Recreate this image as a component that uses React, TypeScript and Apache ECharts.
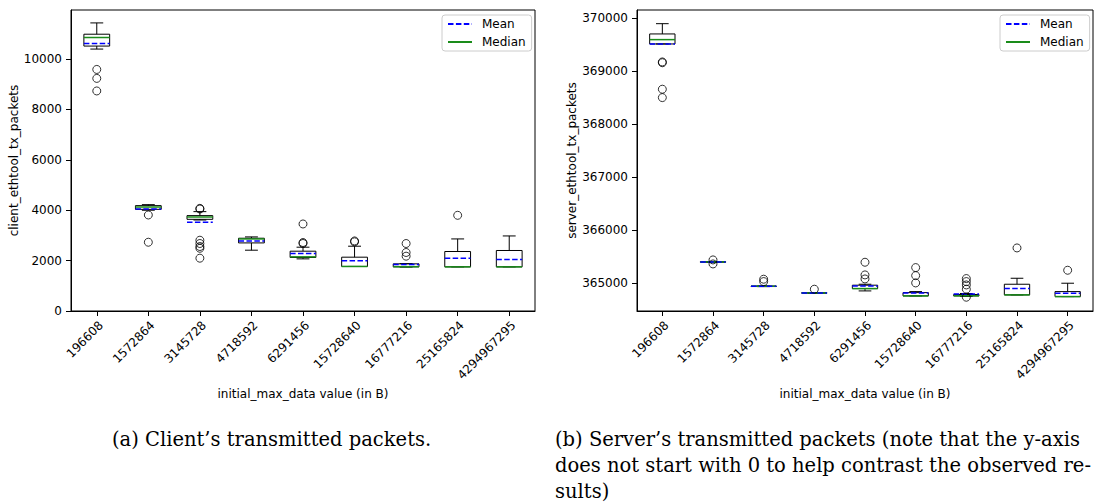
import React, { useEffect, useRef } from "react";
import * as echarts from "echarts";

const categories = ["196608", "1572864", "3145728", "4718592", "6291456", "15728640", "16777216", "25165824", "4294967295"];

// Client (left panel)
const clientWhiskerLow = [10399, 4000, 3613, 2414, 2070, 1768, 1745, 1753, 1753];
const clientQ1 = [10518, 4036, 3640, 2703, 2125, 1768, 1753, 1753, 1753];
const clientMedian = [10858, 4128, 3732, 2861, 2150, 1768, 1760, 1753, 1753];
const clientQ3 = [10989, 4183, 3787, 2889, 2374, 2137, 1872, 2362, 2402];
const clientWhiskerHigh = [11437, 4222, 3945, 2941, 2533, 2572, 1880, 2861, 2980];
const clientMean = [10621, 4049, 3522, 2782, 2283, 1991, 1848, 2097, 2046];
const clientOutliers: [number, number][] = [
  [0, 9590], [0, 9235], [0, 8736],
  [1, 3812], [1, 2730],
  [2, 4049], [2, 4075], [2, 2810], [2, 2680], [2, 2560], [2, 2490], [2, 2097],
  [4, 3455], [4, 2719], [4, 2680],
  [5, 2782], [5, 2745],
  [6, 2679], [6, 2323], [6, 2176],
  [7, 3799],
];
const clientTicks = [0, 2000, 4000, 6000, 8000, 10000];

// Server (right panel)
const serverWhiskerLow = [369509, 365390, 364930, 364805, 364849, 364755, 364745, 364774, 364742];
const serverQ1 = [369509, 365392, 364933, 364807, 364893, 364755, 364755, 364774, 364742];
const serverMedian = [369591, 365396, 364937, 364811, 364893, 364755, 364757, 364774, 364742];
const serverQ3 = [369698, 365400, 364941, 364815, 364957, 364817, 364781, 364975, 364836];
const serverWhiskerHigh = [369892, 365402, 364943, 364817, 364975, 364836, 364800, 365088, 364994];
const serverMean = [369509, 365396, 364935, 364809, 364943, 364811, 364792, 364893, 364805];
const serverOutliers: [number, number][] = [
  [0, 369170], [0, 369155], [0, 368655], [0, 368497],
  [1, 365434], [1, 365358],
  [2, 365070], [2, 365025],
  [3, 364881],
  [4, 365390], [4, 365151], [4, 365075],
  [5, 365289], [5, 365138], [5, 365000],
  [6, 365082], [6, 365025], [6, 364962], [6, 364881], [6, 364730],
  [7, 365660],
  [8, 365239],
];
const serverTicks = [365000, 366000, 367000, 368000, 369000, 370000];

const xTitle = "initial_max_data value (in B)";
const clientYTitle = "client_ethtool_tx_packets";
const serverYTitle = "server_ethtool_tx_packets";
const captionA = "(a) Client\u2019s transmitted packets.";
const captionB = [
  "(b) Server\u2019s transmitted packets (note that the y-axis",
  "does not start with 0 to help contrast the observed re-",
  "sults)",
];

const SANS = "DejaVu Sans";
const SERIF = "DejaVu Serif";
const MEAN_COLOR = "#0000ff";
const MEDIAN_COLOR = "#1a8c1a";
const MEAN_DASH = [5.5, 2.4];

function boxData(low: number[], q1: number[], med: number[], q3: number[], high: number[], mean: number[]) {
  return categories.map((_, i) => [i, low[i], q1[i], med[i], q3[i], high[i], mean[i]]);
}

const renderBox = (_params: any, api: any) => {
  const x = api.value(0);
  const pLow = api.coord([x, api.value(1)]);
  const pQ1 = api.coord([x, api.value(2)]);
  const pMed = api.coord([x, api.value(3)]);
  const pQ3 = api.coord([x, api.value(4)]);
  const pHigh = api.coord([x, api.value(5)]);
  const pMean = api.coord([x, api.value(6)]);
  const band = api.size([1, 0])[0];
  const bw = band * 0.5;
  const cw = bw * 0.5;
  const cx = pLow[0];
  const black = { stroke: "#000", lineWidth: 1, fill: null };
  return {
    type: "group",
    children: [
      { type: "line", shape: { x1: cx, y1: pQ3[1], x2: cx, y2: pHigh[1] }, style: black },
      { type: "line", shape: { x1: cx - cw / 2, y1: pHigh[1], x2: cx + cw / 2, y2: pHigh[1] }, style: black },
      { type: "line", shape: { x1: cx, y1: pQ1[1], x2: cx, y2: pLow[1] }, style: black },
      { type: "line", shape: { x1: cx - cw / 2, y1: pLow[1], x2: cx + cw / 2, y2: pLow[1] }, style: black },
      {
        type: "rect",
        shape: { x: cx - bw / 2, y: pQ3[1], width: bw, height: Math.max(pQ1[1] - pQ3[1], 0.5) },
        style: { fill: "none", stroke: "#000", lineWidth: 1 },
      },
      {
        type: "line",
        shape: { x1: cx - bw / 2, y1: pMed[1], x2: cx + bw / 2, y2: pMed[1] },
        style: { stroke: MEDIAN_COLOR, lineWidth: 1.5 },
      },
      {
        type: "line",
        shape: { x1: cx - bw / 2, y1: pMean[1], x2: cx + bw / 2, y2: pMean[1] },
        style: { stroke: MEAN_COLOR, lineWidth: 1.5, lineDash: MEAN_DASH },
      },
    ],
  };
};

function xAxisFor(gridIndex: number) {
  return {
    type: "category",
    gridIndex,
    data: categories,
    boundaryGap: true,
    axisLine: { show: true, lineStyle: { color: "#000", width: 1 } },
    axisTick: { show: true, alignWithLabel: true, length: 5, lineStyle: { color: "#000" } },
    axisLabel: {
      rotate: 45,
      fontSize: 12,
      color: "#000",
      fontFamily: SANS,
      margin: 8,
      interval: 0,
      align: "right",
      verticalAlign: "top",
    },
    splitLine: { show: false },
    name: xTitle,
    nameLocation: "middle",
    nameGap: 75,
    nameTextStyle: { fontSize: 12, color: "#000", fontFamily: SANS },
  };
}

function yAxisFor(gridIndex: number, min: number, max: number, ticks: number[], title: string, gap: number) {
  return {
    type: "value",
    gridIndex,
    min,
    max,
    scale: true,
    axisLine: { show: true, lineStyle: { color: "#000", width: 1 } },
    axisTick: { show: true, length: 5, lineStyle: { color: "#000" }, customValues: ticks },
    axisLabel: {
      fontSize: 12,
      color: "#000",
      fontFamily: SANS,
      margin: 9,
      customValues: ticks,
      formatter: (v: number) => String(Math.round(v)),
    },
    splitLine: { show: false },
    name: title,
    nameLocation: "middle",
    nameGap: gap,
    nameTextStyle: { fontSize: 12, color: "#000", fontFamily: SANS },
  };
}

function legendAt(left: number) {
  return {
    data: ["Mean", "Median"],
    orient: "vertical",
    left,
    top: 15,
    itemWidth: 24,
    itemHeight: 12,
    itemGap: 6,
    padding: [3, 6, 3, 5],
    backgroundColor: "rgba(255,255,255,0.8)",
    borderColor: "#cccccc",
    borderWidth: 1,
    borderRadius: 3,
    selectedMode: false,
    itemStyle: { opacity: 0 },
    textStyle: { fontSize: 12, color: "#000", fontFamily: SANS, padding: [0, 0, 0, 5] },
  };
}

export default function App() {
  const ref = useRef<HTMLDivElement>(null);
  useEffect(() => {
    if (!ref.current) return;
    const chart = echarts.init(ref.current, undefined, { renderer: "svg" });
    const outlierStyle = { color: "rgba(0,0,0,0)", borderColor: "#000", borderWidth: 1 };
    const option: any = {
      animation: false,
      backgroundColor: "#fff",
      grid: [
        { left: 71, top: 10, width: 464, height: 301, show: true, borderColor: "#000", borderWidth: 1, backgroundColor: "transparent" },
        { left: 637, top: 10, width: 456, height: 301, show: true, borderColor: "#000", borderWidth: 1, backgroundColor: "transparent" },
      ],
      xAxis: [xAxisFor(0), xAxisFor(1)],
      yAxis: [
        yAxisFor(0, 0, 11950, clientTicks, clientYTitle, 47),
        yAxisFor(1, 364470, 370150, serverTicks, serverYTitle, 56),
      ],
      legend: [legendAt(442), legendAt(1000)],
      series: [
        {
          type: "custom",
          name: "client-box",
          xAxisIndex: 0,
          yAxisIndex: 0,
          renderItem: renderBox,
          encode: { x: 0, y: [1, 2, 3, 4, 5, 6] },
          data: boxData(clientWhiskerLow, clientQ1, clientMedian, clientQ3, clientWhiskerHigh, clientMean),
          z: 3,
        },
        {
          type: "scatter",
          name: "client-outliers",
          xAxisIndex: 0,
          yAxisIndex: 0,
          symbol: "circle",
          symbolSize: 8,
          itemStyle: outlierStyle,
          data: clientOutliers,
          z: 4,
        },
        {
          type: "custom",
          name: "server-box",
          xAxisIndex: 1,
          yAxisIndex: 1,
          renderItem: renderBox,
          encode: { x: 0, y: [1, 2, 3, 4, 5, 6] },
          data: boxData(serverWhiskerLow, serverQ1, serverMedian, serverQ3, serverWhiskerHigh, serverMean),
          z: 3,
        },
        {
          type: "scatter",
          name: "server-outliers",
          xAxisIndex: 1,
          yAxisIndex: 1,
          symbol: "circle",
          symbolSize: 8,
          itemStyle: outlierStyle,
          data: serverOutliers,
          z: 4,
        },
        {
          type: "line",
          name: "Mean",
          xAxisIndex: 0,
          yAxisIndex: 0,
          symbol: "none",
          showSymbol: false,
          data: [],
          itemStyle: { color: MEAN_COLOR },
          lineStyle: { color: MEAN_COLOR, width: 1.5, type: MEAN_DASH },
        },
        {
          type: "line",
          name: "Median",
          xAxisIndex: 0,
          yAxisIndex: 0,
          symbol: "none",
          showSymbol: false,
          data: [],
          itemStyle: { color: MEDIAN_COLOR },
          lineStyle: { color: MEDIAN_COLOR, width: 1.5, type: "solid" },
        },
      ],
      graphic: [
        {
          type: "text",
          x: 112,
          y: 439,
          style: { text: captionA, font: `19.5px "${SERIF}"`, fill: "#000", verticalAlign: "middle" },
        },
        ...captionB.map((t, i) => ({
          type: "text",
          x: 555,
          y: 439 + i * 26,
          style: { text: t, font: `19.5px "${SERIF}"`, fill: "#000", verticalAlign: "middle" },
        })),
      ],
    };
    chart.setOption(option);
    return () => chart.dispose();
  }, []);
  return <div ref={ref} style={{ position: "absolute", left: 0, top: 0, width: 1094, height: 502 }} />;
}
